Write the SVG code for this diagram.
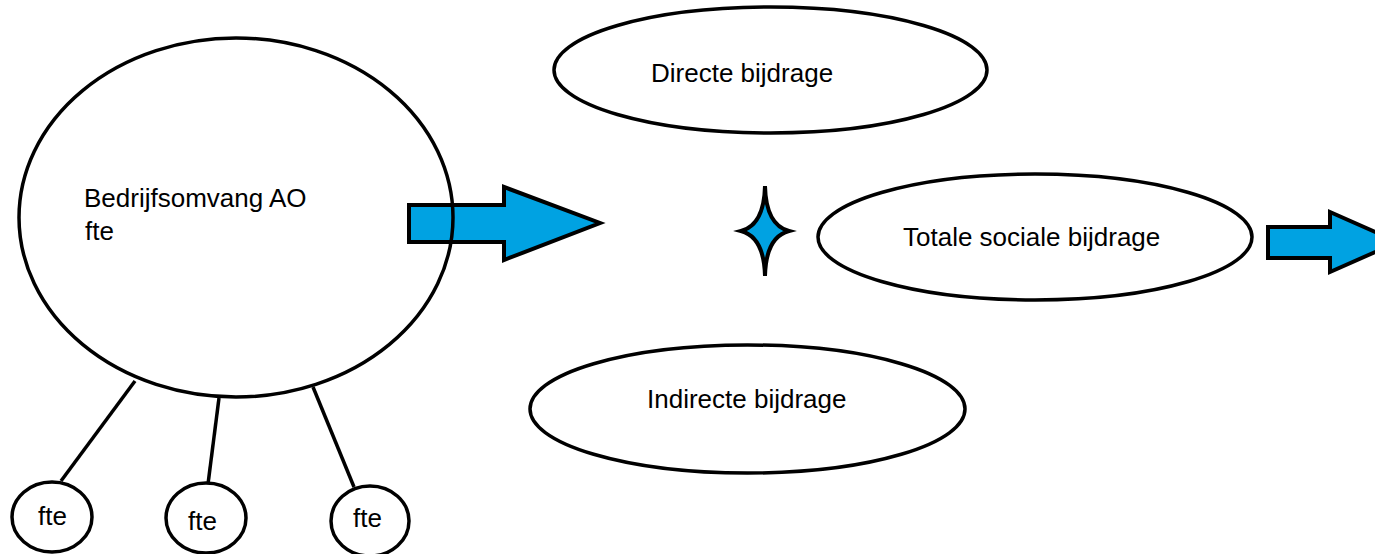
<svg xmlns="http://www.w3.org/2000/svg" width="1375" height="554" viewBox="0 0 1375 554">
<style>
.shape{fill:none;stroke:#000;stroke-width:3.5}
.blue{fill:#00A2E2;stroke:#000;stroke-width:4;stroke-linejoin:miter}
.line{stroke:#000;stroke-width:3.5;fill:none}
text{font-family:"Liberation Sans",Arial,sans-serif;font-size:26px;fill:#000}
</style>
<rect width="1375" height="554" fill="#fff"/>
<g id="connectors">
<polygon class="blue" points="409,205 504,205 504,187 600,223 504,260 504,242 409,242"/>
<polygon class="blue" points="1268,227 1330,227 1330,212 1398,242 1330,272 1330,258 1268,258"/>
<line class="line" x1="135" y1="381" x2="61" y2="481"/>
<line class="line" x1="219" y1="398" x2="208" y2="484"/>
<line class="line" x1="313" y1="387" x2="354" y2="487"/>
</g>
<g id="star">
<path class="blue" d="M765,186 Q766,225 789,231 Q766,237 765,276 Q764,237 741,231 Q764,225 765,186 Z"/>
</g>
<g id="bedrijfsomvang">
<ellipse class="shape" cx="236" cy="217.5" rx="217" ry="179.5"/>
<text x="84" y="207">Bedrijfsomvang AO</text>
<text x="85" y="240">fte</text>
</g>
<g id="fte1">
<ellipse class="shape" cx="52" cy="517" rx="40" ry="35"/>
<text x="38" y="525">fte</text>
</g>
<g id="fte2">
<ellipse class="shape" cx="206" cy="518" rx="40" ry="35"/>
<text x="188" y="530">fte</text>
</g>
<g id="fte3">
<ellipse class="shape" cx="370" cy="521" rx="39" ry="35"/>
<text x="353" y="527">fte</text>
</g>
<g id="directe">
<ellipse class="shape" cx="770.5" cy="70" rx="216.5" ry="63"/>
<text x="651" y="82">Directe bijdrage</text>
</g>
<g id="totale">
<ellipse class="shape" cx="1035" cy="237" rx="217" ry="63"/>
<text x="903" y="246">Totale sociale bijdrage</text>
</g>
<g id="indirecte">
<ellipse class="shape" cx="747.5" cy="409" rx="217.5" ry="64"/>
<text x="647" y="408">Indirecte bijdrage</text>
</g>
</svg>
